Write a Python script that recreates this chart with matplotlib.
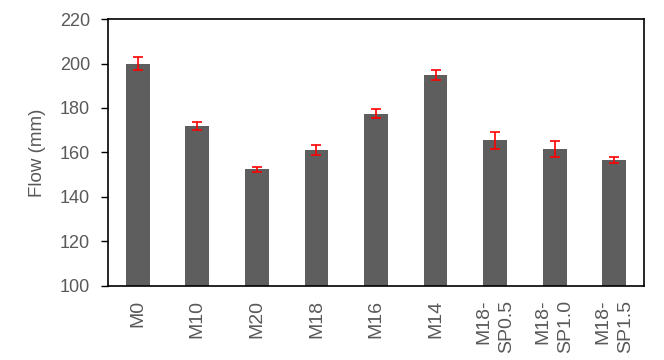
import numpy as np
import matplotlib.pyplot as plt

plt.rcParams['font.family'] = ['Liberation Sans', 'DejaVu Sans']

labels = ['M0', 'M10', 'M20', 'M18', 'M16', 'M14', 'M18-\nSP0.5', 'M18-\nSP1.0', 'M18-\nSP1.5']
flow = [200.0, 172.0, 152.5, 161.0, 177.5, 195.0, 165.5, 161.5, 156.5]
err = [2.7, 1.8, 1.2, 2.2, 2.2, 2.2, 3.8, 3.6, 1.3]

grey = '#595959'

fig = plt.figure(figsize=(6.64, 3.6), dpi=100)
ax = fig.add_axes([0.1627, 0.2056, 0.8072, 0.7416])

x = np.arange(len(labels))
ax.bar(x, flow, width=0.4, color='#5e5e5e', zorder=2)
ax.errorbar(x, flow, yerr=err, fmt='none', ecolor='red', elinewidth=1.2,
            capsize=3.5, capthick=1.2, zorder=3)

ax.set_xlim(-0.5, len(labels) - 0.5)
ax.set_ylim(100, 220)
ax.set_yticks(np.arange(100, 221, 20))
ax.set_xticks(x)
ax.set_xticklabels(labels, rotation=90, va='top', ha='center',
                   multialignment='right', linespacing=1.45)

ax.tick_params(axis='y', length=5, width=1, pad=8, labelsize=13, labelcolor=grey)
ax.tick_params(axis='x', length=0, pad=10, labelsize=14, labelcolor=grey)
for s in ax.spines.values():
    s.set_linewidth(1.2)
    s.set_color('black')

ax.set_ylabel('Flow (mm)', fontsize=13.5, color=grey, labelpad=10)

fig.savefig('out.png', dpi=100)
